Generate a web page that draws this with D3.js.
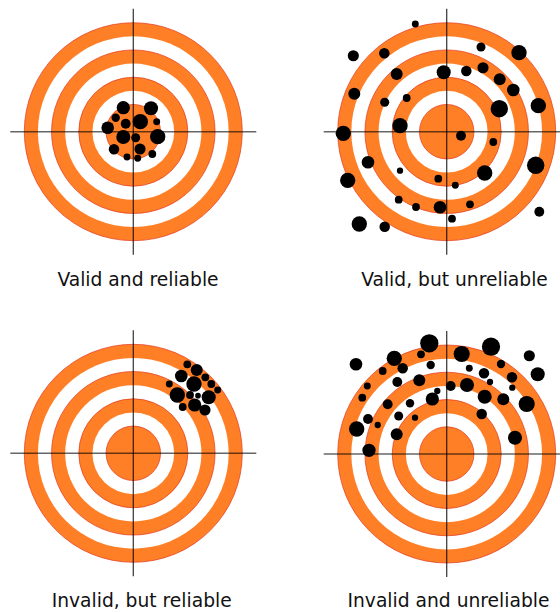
<!DOCTYPE html>
<html>
<head>
<meta charset="utf-8">
<script src="https://cdn.jsdelivr.net/npm/d3@7"></script>
<style>
  html, body { margin: 0; padding: 0; background: #fff; }
  svg { display: block; }
</style>
</head>
<body>
<svg id="chart" width="560" height="613"></svg>
<script>
// ---------- Data ----------
const panelTitles = ["Valid and reliable", "Valid, but unreliable", "Invalid, but reliable", "Invalid and unreliable"];
// ring boundaries in ring units (outer = 8), alternating orange / white
const ringRadii = [8, 7, 6, 5, 4, 3, 2];
// shots: [dx, dy, radius] relative to target centre (pixel units)
const shotsValidReliable = [
  [-10,-24,6.3],[17.7,-23.4,6.7],[-17.6,-14,4],[7,-10,7.3],[23.4,-10,3.3],[-7.6,-8,4.7],
  [-25.6,-4,6],[-10,5.3,6.7],[2.4,6,4.3],[24.4,5,7.3],[-19.3,17.6,5],[6.7,17.3,5.3],
  [19,22.3,3.7],[-6.3,25.3,3.3],[4.4,26.6,3.3]
];
const shotsValidUnreliable = [
  [-31.4,-107.7,3.3],[-93.4,-76,5.3],[-62.4,-78.4,5],[34.3,-84.7,4.3],[72.3,-79,7.3],
  [-50,-57.7,5.7],[-3,-59.4,6.7],[19.6,-60.7,5],[36.3,-64,5.3],[53,-52.4,5.7],[66.6,-41.7,6],
  [-92.4,-38,5.7],[-62,-29.4,4.3],[-40,-33.7,3.7],[52.6,-23,8.3],[91.6,-26,7.3],[-46.7,-6,7.3],
  [-103.4,1.6,7.3],[14.3,4,4.7],[46.6,10.3,3.7],[-78.7,30.6,6],[89,33.6,8.3],[-99,48.6,7.3],
  [-46.7,39,3],[38,41.3,7.3],[-8.4,47,3.7],[8.6,53.6,3.3],[-48,68,3.7],[-30.7,75.3,3.7],
  [-6.7,75.6,6],[23.3,72.6,3.7],[92.6,80,4.7],[-87.4,92.3,7.3],[-62,95,5],[5.3,87,3.7]
];
const shotsInvalidReliable = [
  [54,-89,3.7],[63.4,-83.3,5.7],[48,-77.3,6],[72,-76,3.7],[60.7,-69.3,7.3],[78,-69.3,3.7],
  [36,-69.3,3.3],[84.4,-63.3,3.3],[44,-58.3,7.3],[56.7,-58.3,3.7],[64.7,-57.6,2.7],
  [75.4,-56,6.7],[61.4,-48.3,6.3],[49.4,-46.3,3.7],[71.7,-43.3,5.3]
];
const shotsInvalidUnreliable = [
  [-17.4,-110.7,8.7],[44.3,-107.3,8.7],[-52.4,-95.7,7.3],[-25.7,-99.7,3.7],[15,-100,7.7],
  [82.6,-98.3,5.3],[-90.7,-89.7,6],[-16,-89,4],[54.3,-90,4],[-44,-85.7,5],[22.6,-85.7,3.3],
  [91,-79.7,6.7],[-64,-83,3.7],[37.3,-80.7,5],[65.3,-76.7,5],[-27.4,-73.7,5.7],[-49.4,-72,4.7],
  [43.3,-72,3],[-79.4,-68,3.3],[4,-68,4.7],[20.3,-69,6.7],[65.6,-66.3,3],[-9.4,-63,3],
  [-84.4,-56.3,3.7],[-14.4,-55,6.3],[38,-57.3,6.7],[56.6,-54.7,5.7],[80,-50,7.7],
  [-36.7,-50.7,4],[-59,-49.7,4.7],[-48,-38,4.3],[35,-40,5],[-78.7,-35,4.7],[-31.7,-36.3,3],
  [-90,-25,7.3],[-69,-29,3],[-50,-19.7,5.7],[68.3,-16.3,6.7],[-77.7,-3.7,6.3]
];
const panelShots = [shotsValidReliable, shotsValidUnreliable, shotsInvalidReliable, shotsInvalidUnreliable];

// ---------- Layout ----------
const centres = [[133.3,131.7],[446.7,131.7],[133.3,453.3],[446.7,454]];
const titlePos = [[138,286],[454.5,286],[141.7,607],[448.5,607]];
const outerR = 109;
const crossHalf = 123;

const svg = d3.select("#chart");
const ringScale = d3.scaleLinear().domain([0, 8]).range([0, outerR]);
const sizeScale = d3.scaleLinear().domain([0, 10]).range([0, 10.5]);

panelShots.forEach((shots, i) => {
  const [cx, cy] = centres[i];
  const x = d3.scaleLinear().domain([-outerR, outerR]).range([cx - outerR, cx + outerR]);
  const y = d3.scaleLinear().domain([-outerR, outerR]).range([cy - outerR, cy + outerR]);
  const g = svg.append("g");

  g.selectAll("circle.ring").data(ringRadii).join("circle")
    .attr("class", "ring")
    .attr("cx", x(0)).attr("cy", y(0))
    .attr("r", d => ringScale(d))
    .attr("fill", (d, k) => k % 2 === 0 ? "#ff7f27" : "#ffffff")
    .attr("stroke", (d, k) => k % 2 === 0 ? "#e2361c" : "none")
    .attr("stroke-width", 0.7);

  // crosshair
  g.append("line")
    .attr("x1", x(-crossHalf)).attr("x2", x(crossHalf))
    .attr("y1", y(0)).attr("y2", y(0))
    .attr("stroke", "#000").attr("stroke-opacity", 0.6).attr("stroke-width", 1.6);
  g.append("line")
    .attr("x1", x(0)).attr("x2", x(0))
    .attr("y1", y(-crossHalf)).attr("y2", y(crossHalf))
    .attr("stroke", "#000").attr("stroke-opacity", 0.75).attr("stroke-width", 1.3);

  g.selectAll("circle.shot").data(shots).join("circle")
    .attr("class", "shot")
    .attr("cx", d => x(d[0])).attr("cy", d => y(d[1]))
    .attr("r", d => sizeScale(d[2]))
    .attr("fill", "#000");

  svg.append("text")
    .attr("x", titlePos[i][0]).attr("y", titlePos[i][1])
    .attr("text-anchor", "middle")
    .attr("font-family", "DejaVu Sans, Verdana, sans-serif")
    .attr("font-size", 18.7)
    .attr("fill", "#111")
    .text(panelTitles[i]);
});
</script>
</body>
</html>
